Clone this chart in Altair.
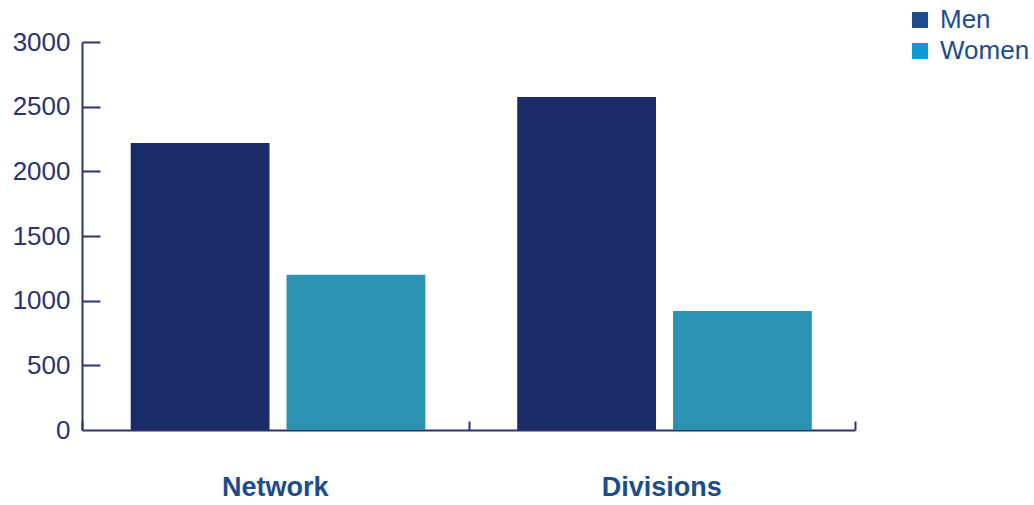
import altair as alt
import pandas as pd

# Headcount by unit and gender
units = ["Network", "Network", "Divisions", "Divisions"]
genders = ["Men", "Women", "Men", "Women"]
counts = [2220, 1200, 2575, 920]

gender_order = ["Men", "Women"]
unit_order = ["Network", "Divisions"]
bar_colors = ["#1b2a68", "#2a93b4"]
legend_colors = ["#1d4c8c", "#0a9ad6"]
y_ticks = [0, 500, 1000, 1500, 2000, 2500, 3000]

df = pd.DataFrame({"unit": units, "gender": genders, "count": counts})
df["key"] = df["gender"]

W, H = 773, 388
AXIS = "#2a3577"
LABEL = "#2c3370"
TITLE_BLUE = "#1d4c8c"

x_scale = alt.Scale(paddingInner=0, paddingOuter=0)
xoff = alt.XOffset(
    "gender:N",
    sort=gender_order,
    scale=alt.Scale(paddingInner=0.109, paddingOuter=0.295, align=0.53),
)
y_scale = alt.Scale(domain=[0, 3000], nice=False)

# Bars, with labels and domain lines on the bottom/left axes
bars = alt.Chart(df).mark_bar().encode(
    x=alt.X(
        "unit:N",
        sort=unit_order,
        scale=x_scale,
        title=None,
        axis=alt.Axis(
            orient="bottom",
            labelAngle=0,
            labelFont="Liberation Sans",
            labelFontSize=27,
            labelFontWeight="bold",
            labelColor=TITLE_BLUE,
            labelPadding=44,
            ticks=False,
            domainColor=AXIS,
            domainWidth=2,
        ),
    ),
    xOffset=xoff,
    y=alt.Y(
        "count:Q",
        scale=y_scale,
        title=None,
        axis=alt.Axis(
            orient="left",
            values=y_ticks,
            format="d",
            labelFont="Liberation Sans",
            labelFontSize=26,
            labelColor=LABEL,
            labelPadding=12,
            ticks=False,
            domainColor=AXIS,
            domainWidth=2,
            grid=False,
        ),
    ),
    color=alt.Color(
        "gender:N",
        sort=gender_order,
        scale=alt.Scale(domain=gender_order, range=bar_colors),
        legend=None,
    ),
)

# Inward-pointing ticks (top/right axes shifted onto the plot edges) and legend
ticks_layer = alt.Chart(df).mark_square(size=0).encode(
    x=alt.X(
        "unit:N",
        sort=unit_order,
        scale=x_scale,
        title=None,
        axis=alt.Axis(
            orient="top",
            offset=-H,
            labels=False,
            domain=False,
            tickBand="extent",
            tickSize=9,
            tickWidth=2,
            tickColor=AXIS,
        ),
    ),
    xOffset=xoff,
    y=alt.Y(
        "count:Q",
        scale=y_scale,
        title=None,
        axis=alt.Axis(
            orient="right",
            offset=-W,
            values=y_ticks[1:],
            labels=False,
            domain=False,
            tickSize=18,
            tickWidth=2,
            tickColor=AXIS,
            grid=False,
        ),
    ),
    fill=alt.Fill(
        "key:N",
        sort=gender_order,
        scale=alt.Scale(domain=gender_order, range=legend_colors),
        legend=alt.Legend(
            title=None,
            orient="none",
            legendX=825,
            legendY=-35,
            symbolType="square",
            symbolSize=256,
            symbolStrokeWidth=0,
            symbolOpacity=1,
            labelFont="Liberation Sans",
            labelFontSize=26,
            labelColor=TITLE_BLUE,
            rowPadding=5,
            labelOffset=7,
        ),
    ),
)

chart = (
    alt.layer(bars, ticks_layer)
    .resolve_axis(x="independent", y="independent")
    .resolve_scale(color="independent", fill="independent")
    .properties(
        width=W,
        height=H,
        autosize=alt.AutoSizeParams(type="none"),
        padding={"left": 82, "top": 42, "right": 179, "bottom": 75},
        background="white",
    )
    .configure_view(stroke=None)
)

chart.save("out.html", embed_options={"renderer": "svg", "actions": False})
